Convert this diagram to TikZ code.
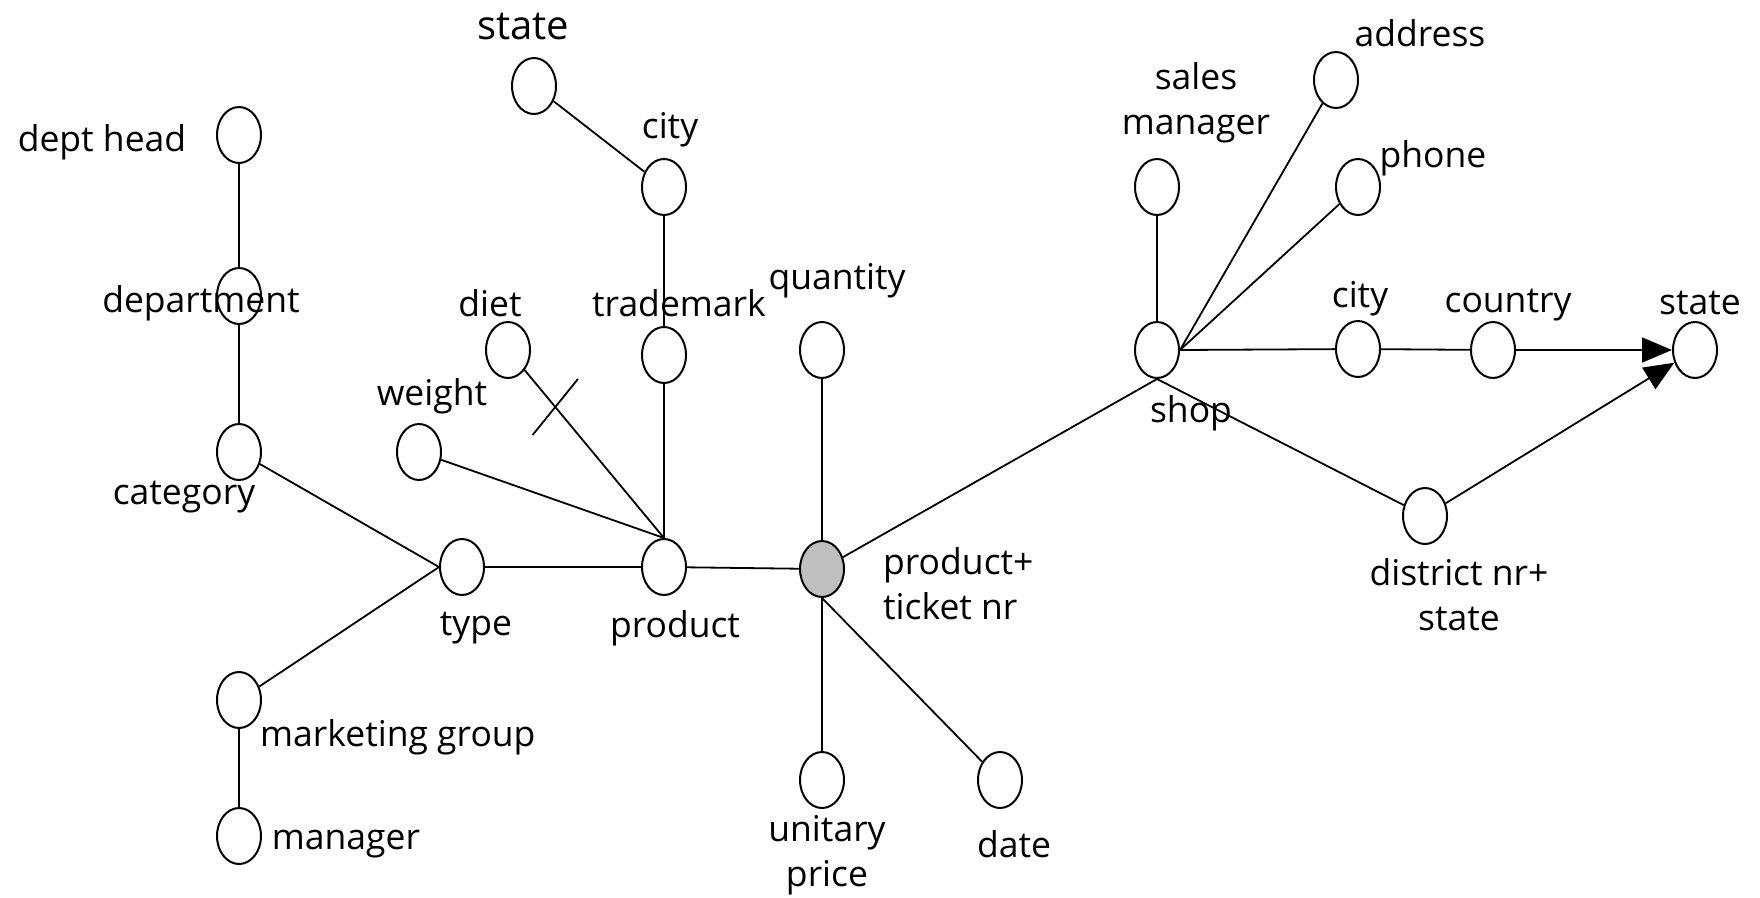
\documentclass[tikz,border=0pt]{standalone}
\usepackage{fontspec}
\setmainfont{Open Sans}
\usetikzlibrary{arrows.meta,shapes.geometric}
\begin{document}
\begin{tikzpicture}[x=1pt,y=-1pt,
  attr/.style={draw, ellipse, minimum width=44pt, minimum height=56pt, inner sep=0pt, line width=2pt},
  keyattr/.style={attr, fill=black!25},
  lbl/.style={font=\fontsize{35.5}{45}\selectfont, inner sep=0pt, align=center},
  biglbl/.style={lbl, font=\fontsize{40}{45}\selectfont},
  link/.style={line width=1.8pt},
  arr/.style={link, -{Triangle[length=30pt,width=25pt]}}]
\useasboundingbox (0,0) rectangle (1760,897);

% attributes
\node[attr] (dh)  at (239,135) {};
\node[attr] (dep) at (239,296) {};
\node[attr] (cat) at (239,452) {};
\node[attr] (mg)  at (239,700) {};
\node[attr] (mgr) at (239,836) {};
\node[attr] (typ) at (462,567) {};
\node[attr] (prd) at (664,567) {};
\node[keyattr] (key) at (822,569) {};
\node[attr] (wgt) at (419,452) {};
\node[attr] (dit) at (508,350) {};
\node[attr] (tm)  at (664,355) {};
\node[attr] (pct) at (664,187) {};
\node[attr] (pst) at (534,86) {};
\node[attr] (qty) at (822,350) {};
\node[attr] (up)  at (822,780) {};
\node[attr] (dat) at (1000,780) {};
\node[attr] (shp) at (1157,350) {};
\node[attr] (sm)  at (1157,187) {};
\node[attr] (adr) at (1336,80) {};
\node[attr] (phn) at (1358,187) {};
\node[attr] (sct) at (1358,349) {};
\node[attr] (cty) at (1493,350) {};
\node[attr] (sst) at (1695,350) {};
\node[attr] (dst) at (1425,516) {};

% labels
\node[lbl] (ldh)  at (102,142) {dept head};
\node[lbl] (ldep) at (201,303) {department};
\node[lbl] (lcat) at (184,497) {category};
\node[lbl, anchor=west] (lmg) at (260,737) {marketing group};
\node[lbl] (lmgr) at (346,844) {manager};
\node[lbl] (ltyp) at (476,628) {type};
\node[lbl] (lprd) at (675,628) {product};
\node[lbl, align=left, anchor=west] (lkey) at (883,584) {product+\\ticket nr};
\node[lbl] (lwgt) at (432,396) {weight};
\node[lbl] (ldit) at (490,303) {diet};
\node[lbl] (ltm)  at (679,303) {trademark};
\node[lbl] (lpct) at (670,130) {city};
\node[biglbl] (lpst) at (523,27) {state};
\node[lbl] (lqty) at (837,281) {quantity};
\node[lbl] (lup)  at (827,855) {unitary\\price};
\node[lbl] (ldat) at (1014,844) {date};
\node[lbl] (lshp) at (1191,413) {shop};
\node[lbl] (lsm)  at (1196,103) {sales\\manager};
\node[lbl] (ladr) at (1420,33) {address};
\node[lbl] (lphn) at (1433,158) {phone};
\node[lbl] (lsct) at (1360,299) {city};
\node[lbl] (lcty) at (1508,305) {country};
\node[lbl] (lsst) at (1700,303) {state};
\node[lbl] (ldst) at (1459,595) {district nr+\\state};

% product side
\draw[link] (dh) -- (dep);
\draw[link] (dep) -- (cat);
\draw[link] (cat) -- (typ.west);
\draw[link] (mg) -- (typ.west);
\draw[link] (mg) -- (mgr);
\draw[link] (typ) -- (prd);
\draw[link] (prd) -- (key);
\draw[link] (wgt) -- (prd.north);
\draw[link] (dit) -- (prd.north) coordinate[pos=0.22] (cut);
\draw[link] (cut) ++(-51:36) -- ++(129:72);
\draw[link] (tm) -- (prd.north);
\draw[link] (pct) -- (tm);
\draw[link] (pst) -- (pct);

% fact
\draw[link] (qty) -- (key);
\draw[link] (key.south) -- (up);
\draw[link] (key.south) -- (dat);
\draw[link] (key) -- (shp.south);

% shop side
\draw[link] (sm) -- (shp);
\draw[link] (shp.east) -- (adr);
\draw[link] (shp.east) -- (phn);
\draw[link] (shp.east) -- (sct);
\draw[link] (sct) -- (cty);
\draw[arr] (cty) -- (sst);
\draw[link] (shp.south) -- (dst);
\draw[arr] (dst) -- (sst);
\end{tikzpicture}
\end{document}
